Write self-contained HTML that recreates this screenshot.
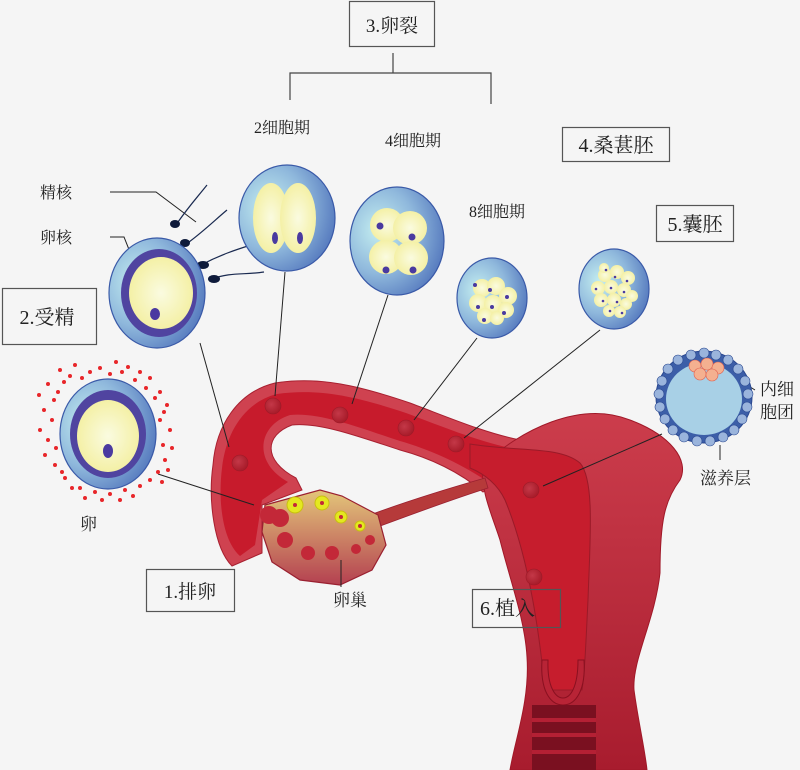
<!DOCTYPE html>
<html><head><meta charset="utf-8"><style>
html,body{margin:0;padding:0;background:#f5f5f5}
svg{display:block}
text{font-family:"Liberation Serif","Noto Serif CJK SC",serif;fill:#222}
</style></head><body>
<svg width="800" height="770" viewBox="0 0 800 770" xmlns="http://www.w3.org/2000/svg">
<defs>
<radialGradient id="cell" cx="0.3" cy="0.4" r="0.8"><stop offset="0" stop-color="#c4eef0"/><stop offset="0.5" stop-color="#8fb8dc"/><stop offset="1" stop-color="#4a6db8"/></radialGradient>
<radialGradient id="yolk" cx="0.5" cy="0.5" r="0.6"><stop offset="0" stop-color="#fafbe0"/><stop offset="1" stop-color="#f3ee9a"/></radialGradient>
<linearGradient id="ut" x1="0" y1="0" x2="0" y2="1"><stop offset="0" stop-color="#cc3d4c"/><stop offset="1" stop-color="#a81c2e"/></linearGradient>
<linearGradient id="ov" x1="0" y1="0" x2="0" y2="1"><stop offset="0" stop-color="#e3c67a"/><stop offset="1" stop-color="#b44050"/></linearGradient>
<radialGradient id="emb" cx="0.4" cy="0.4" r="0.6"><stop offset="0" stop-color="#c43848"/><stop offset="1" stop-color="#a81c2a"/></radialGradient>
</defs>
<rect width="800" height="770" fill="#f5f5f5"/>

<!-- bracket -->
<rect x="349.5" y="1.5" width="85" height="45" fill="none" stroke="#555" stroke-width="1.2"/>
<text x="392" y="32" font-size="19" text-anchor="middle">3.卵裂</text>
<path d="M393,53 V73 M290,100 V73 H491 V104" fill="none" stroke="#444" stroke-width="1.2"/>
<text x="254" y="133" font-size="16">2细胞期</text>
<text x="385" y="146" font-size="16">4细胞期</text>
<text x="469" y="217" font-size="16">8细胞期</text>
<rect x="562.5" y="127.5" width="107" height="34" fill="none" stroke="#555" stroke-width="1.2"/>
<text x="616" y="152" font-size="20" text-anchor="middle">4.桑葚胚</text>
<rect x="656.5" y="205.5" width="77" height="36" fill="none" stroke="#555" stroke-width="1.2"/>
<text x="695" y="231" font-size="20" text-anchor="middle">5.囊胚</text>
<rect x="2.5" y="288.5" width="94" height="56" fill="none" stroke="#555" stroke-width="1.2"/>
<text x="47" y="324" font-size="20" text-anchor="middle">2.受精</text>
<rect x="146.5" y="569.5" width="88" height="42" fill="none" stroke="#555" stroke-width="1.2"/>
<text x="190" y="598" font-size="19" text-anchor="middle">1.排卵</text>

<!-- tube as filled loop -->
<path d="M232,566 C214,548 208,500 213,465 C216,425 238,392 275,383 C320,376 360,386 410,403 C450,418 485,433 520,440 L520,470 L483,492 C460,472 430,458 400,450 C360,437 320,422 292,425 C265,435 262,460 296,478 L302,490 L262,505 L262,553 Z" fill="#cf4250" stroke="#a82030" stroke-width="1"/>
<path d="M240,556 C222,540 218,500 222,468 C226,432 245,402 277,394 C320,388 358,397 406,413 C446,428 482,443 520,450 L520,462 L485,480 C458,462 428,449 400,441 C360,428 320,412 290,415 C258,425 252,462 288,482 L262,500 L255,545 Z" fill="#c71b2c"/>

<!-- uterus body -->
<path d="M483,465 C520,430 580,400 630,420 C670,435 690,460 680,480 C665,500 660,520 660,573 C655,620 632,660 634,690 C638,720 645,750 647,770 L510,770 C515,740 530,700 527,657 C525,620 510,580 500,540 C492,515 480,490 483,465 Z" fill="url(#ut)" stroke="#a01828" stroke-width="1"/>
<path d="M470,444 C520,452 560,446 580,463 C595,480 590,540 588,600 C586,640 585,670 582,690 L545,690 C540,640 530,560 505,500 C498,485 485,474 470,468 Z" fill="#c61d2d" stroke="#9a1a28" stroke-width="1"/>
<path d="M542,660 C540,690 550,705 563,705 C576,705 586,690 584,660 L578,660 C578,688 570,698 563,698 C556,698 547,688 548,660 Z" fill="#b82436" stroke="#8a1020"/>
<rect x="532" y="705" width="64" height="65" fill="#7a1020"/>
<path d="M532,720 H596 M532,735 H596 M532,752 H596" stroke="#b42034" stroke-width="4"/>

<!-- ligament -->
<path d="M370,515 C410,500 450,488 485,478 L488,488 C450,500 410,515 375,528 Z" fill="#b63a3a" stroke="#992030" stroke-width="0.8"/>
<!-- ovary -->
<path d="M265,505 L320,490 L342,496 L378,515 L386,545 L372,570 L340,585 L300,580 L272,562 L262,532 Z" fill="url(#ov)" stroke="#9a2030" stroke-width="1.2"/>
<g fill="#e4e820" stroke="#c8c010"><circle cx="295" cy="505" r="8"/><circle cx="322" cy="503" r="7"/><circle cx="341" cy="517" r="6"/><circle cx="360" cy="526" r="5"/></g>
<g fill="#c32838"><circle cx="295" cy="505" r="2"/><circle cx="322" cy="503" r="2"/><circle cx="341" cy="517" r="2"/><circle cx="360" cy="526" r="2"/>
<circle cx="285" cy="540" r="8"/><circle cx="308" cy="553" r="7"/><circle cx="332" cy="553" r="7"/><circle cx="356" cy="549" r="5"/><circle cx="370" cy="540" r="5"/><circle cx="269" cy="515" r="9"/><circle cx="280" cy="518" r="9"/></g>
<!-- embryos in tube -->
<g fill="url(#emb)" stroke="#9c1a28" stroke-width="0.6">
<circle cx="273" cy="406" r="8"/><circle cx="340" cy="415" r="8"/><circle cx="406" cy="428" r="8"/><circle cx="456" cy="444" r="8"/><circle cx="240" cy="463" r="8"/><circle cx="531" cy="490" r="8"/><circle cx="534" cy="577" r="8"/></g>

<!-- connector lines -->
<g stroke="#222" stroke-width="1" fill="none">
<path d="M200,343 L229,447"/><path d="M285,272 L275,396"/><path d="M388,295 L352,404"/><path d="M477,338 L414,420"/><path d="M600,330 L464,438"/><path d="M662,434 L543,486"/>
<path d="M158,474 L254,505"/><path d="M341,560 L341,587"/>
<path d="M110,192 L156,192 L196,222"/><path d="M110,237 L124,237 L154,312"/>
<path d="M718,367 L755,390"/><path d="M720,445 L720,460"/>
</g>
<text x="333" y="606" font-size="17">卵巢</text>
<rect x="472.5" y="589.5" width="88" height="38" fill="none" stroke="#555" stroke-width="1.2"/>
<text x="480" y="615" font-size="20">6.植入</text>

<!-- egg with follicle cells -->
<g fill="#e8262a">
<circle cx="60" cy="370" r="2"/><circle cx="75" cy="365" r="2"/><circle cx="90" cy="372" r="2"/><circle cx="128" cy="367" r="2"/><circle cx="140" cy="372" r="2"/><circle cx="150" cy="378" r="2"/><circle cx="48" cy="384" r="2"/><circle cx="58" cy="392" r="2"/><circle cx="160" cy="392" r="2"/><circle cx="167" cy="405" r="2"/><circle cx="44" cy="410" r="2"/><circle cx="52" cy="420" r="2"/><circle cx="160" cy="420" r="2"/><circle cx="170" cy="430" r="2"/><circle cx="48" cy="440" r="2"/><circle cx="163" cy="445" r="2"/><circle cx="45" cy="455" r="2"/><circle cx="55" cy="465" r="2"/><circle cx="165" cy="460" r="2"/><circle cx="158" cy="472" r="2"/><circle cx="65" cy="478" r="2"/><circle cx="80" cy="488" r="2"/><circle cx="95" cy="492" r="2"/><circle cx="110" cy="494" r="2"/><circle cx="125" cy="490" r="2"/><circle cx="140" cy="486" r="2"/><circle cx="150" cy="480" r="2"/><circle cx="70" cy="376" r="2"/><circle cx="135" cy="380" r="2"/><circle cx="40" cy="430" r="2"/><circle cx="172" cy="448" r="2"/><circle cx="85" cy="498" r="2"/><circle cx="120" cy="500" r="2"/><circle cx="100" cy="368" r="2"/><circle cx="116" cy="362" r="2"/><circle cx="155" cy="398" r="2"/><circle cx="62" cy="472" r="2"/>
<circle cx="64" cy="382" r="2"/><circle cx="82" cy="378" r="2"/><circle cx="146" cy="388" r="2"/><circle cx="54" cy="400" r="2"/><circle cx="164" cy="412" r="2"/><circle cx="56" cy="448" r="2"/><circle cx="162" cy="482" r="2"/><circle cx="72" cy="488" r="2"/><circle cx="102" cy="500" r="2"/><circle cx="133" cy="496" r="2"/><circle cx="168" cy="470" r="2"/><circle cx="39" cy="395" r="2"/><circle cx="110" cy="374" r="2"/><circle cx="122" cy="372" r="2"/>
</g>
<ellipse cx="108" cy="434" rx="48" ry="55" fill="url(#cell)" stroke="#3a5aa8" stroke-width="1.2"/>
<ellipse cx="108" cy="434" rx="38" ry="44" fill="#5044a0"/>
<ellipse cx="108" cy="436" rx="31" ry="36" fill="url(#yolk)"/>
<ellipse cx="108" cy="451" rx="5" ry="7" fill="#4a3aa0"/>
<text x="80" y="530" font-size="17">卵</text>

<!-- fertilized egg + sperms -->
<g stroke="#1a2a50" stroke-width="1.2" fill="none">
<path d="M178,222 C190,205 195,200 207,185"/><path d="M189,242 C205,230 215,220 227,210"/><path d="M201,265 C220,255 235,250 251,245"/><path d="M212,279 C230,272 245,275 264,272"/>
</g>
<g fill="#0e1a3a"><ellipse cx="175" cy="224" rx="5" ry="4"/><ellipse cx="185" cy="243" rx="5" ry="4"/><ellipse cx="203" cy="265" rx="6" ry="4"/><ellipse cx="214" cy="279" rx="6" ry="4"/></g>
<ellipse cx="157" cy="293" rx="48" ry="55" fill="url(#cell)" stroke="#3a5aa8" stroke-width="1.2"/>
<ellipse cx="159" cy="293" rx="38" ry="44" fill="#5044a0"/>
<ellipse cx="161" cy="293" rx="32" ry="36" fill="url(#yolk)"/>
<ellipse cx="155" cy="314" rx="5" ry="6" fill="#4a3aa0"/>
<text x="40" y="198" font-size="16">精核</text>
<text x="40" y="243" font-size="16">卵核</text>

<!-- 2-cell -->
<ellipse cx="287" cy="218" rx="48" ry="53" fill="url(#cell)" stroke="#3a5aa8" stroke-width="1.2"/>
<ellipse cx="271" cy="218" rx="18" ry="35" fill="url(#yolk)"/>
<ellipse cx="298" cy="218" rx="18" ry="35" fill="url(#yolk)"/>
<ellipse cx="275" cy="238" rx="3" ry="6" fill="#4a3aa0"/><ellipse cx="300" cy="238" rx="3" ry="6" fill="#4a3aa0"/>

<!-- 4-cell -->
<ellipse cx="397" cy="241" rx="47" ry="54" fill="url(#cell)" stroke="#3a5aa8" stroke-width="1.2"/>
<g fill="url(#yolk)"><circle cx="387" cy="225" r="17"/><circle cx="410" cy="228" r="17"/><circle cx="386" cy="257" r="17"/><circle cx="411" cy="258" r="17"/></g>
<g fill="#4a3aa0"><circle cx="380" cy="226" r="3.5"/><circle cx="412" cy="237" r="3.5"/><circle cx="386" cy="270" r="3.5"/><circle cx="413" cy="270" r="3.5"/></g>

<!-- 8-cell -->
<ellipse cx="492" cy="298" rx="35" ry="40" fill="url(#cell)" stroke="#3a5aa8" stroke-width="1.2"/>
<g fill="url(#yolk)"><circle cx="482" cy="288" r="9"/><circle cx="496" cy="286" r="9"/><circle cx="508" cy="296" r="9"/><circle cx="478" cy="303" r="9"/><circle cx="493" cy="304" r="9"/><circle cx="506" cy="310" r="8"/><circle cx="485" cy="316" r="8"/><circle cx="497" cy="318" r="7"/></g>
<g fill="#4a3aa0"><circle cx="475" cy="285" r="2"/><circle cx="490" cy="290" r="2"/><circle cx="507" cy="297" r="2"/><circle cx="478" cy="307" r="2"/><circle cx="492" cy="307" r="2"/><circle cx="504" cy="313" r="2"/><circle cx="484" cy="320" r="2"/></g>

<!-- morula -->
<ellipse cx="614" cy="289" rx="35" ry="40" fill="url(#cell)" stroke="#3a5aa8" stroke-width="1.2"/>
<g fill="url(#yolk)"><circle cx="605" cy="275" r="7"/><circle cx="617" cy="272" r="7"/><circle cx="628" cy="278" r="7"/><circle cx="598" cy="288" r="7"/><circle cx="611" cy="287" r="7"/><circle cx="624" cy="290" r="7"/><circle cx="632" cy="296" r="6"/><circle cx="601" cy="300" r="7"/><circle cx="614" cy="300" r="7"/><circle cx="626" cy="304" r="6"/><circle cx="609" cy="311" r="6"/><circle cx="620" cy="312" r="6"/><circle cx="604" cy="268" r="5"/></g>
<g fill="#4a3aa0"><circle cx="606" cy="270" r="1.3"/><circle cx="615" cy="277" r="1.3"/><circle cx="627" cy="281" r="1.3"/><circle cx="596" cy="289" r="1.3"/><circle cx="611" cy="288" r="1.3"/><circle cx="624" cy="292" r="1.3"/><circle cx="603" cy="301" r="1.3"/><circle cx="617" cy="302" r="1.3"/><circle cx="610" cy="311" r="1.3"/><circle cx="622" cy="313" r="1.3"/></g>

<!-- blastocyst -->
<ellipse cx="704" cy="397" rx="48" ry="46" fill="#3c5ea8" stroke="#2a4890" stroke-width="1"/>
<g fill="#9ab4dc" stroke="#2a4890" stroke-width="0.6">
<circle cx="704" cy="353" r="5"/><circle cx="716" cy="355" r="5"/><circle cx="728" cy="360" r="5"/><circle cx="738" cy="369" r="5"/><circle cx="745" cy="381" r="5"/><circle cx="748" cy="394" r="5"/><circle cx="747" cy="407" r="5"/><circle cx="742" cy="419" r="5"/><circle cx="734" cy="430" r="5"/><circle cx="723" cy="437" r="5"/><circle cx="710" cy="441" r="5"/><circle cx="697" cy="441" r="5"/><circle cx="684" cy="437" r="5"/><circle cx="673" cy="430" r="5"/><circle cx="665" cy="419" r="5"/><circle cx="660" cy="407" r="5"/><circle cx="659" cy="394" r="5"/><circle cx="662" cy="381" r="5"/><circle cx="668" cy="369" r="5"/><circle cx="678" cy="360" r="5"/><circle cx="691" cy="355" r="5"/></g>
<ellipse cx="704" cy="399" rx="38" ry="36" fill="#a8d0e6"/>
<g fill="#f4b090" stroke="#e06050" stroke-width="0.6"><circle cx="695" cy="366" r="6"/><circle cx="707" cy="364" r="6"/><circle cx="718" cy="368" r="6"/><circle cx="700" cy="374" r="6"/><circle cx="712" cy="375" r="6"/></g>
<text x="760" y="395" font-size="17">内细</text>
<text x="760" y="418" font-size="17">胞团</text>
<text x="700" y="484" font-size="17">滋养层</text>
</svg>
</body></html>
